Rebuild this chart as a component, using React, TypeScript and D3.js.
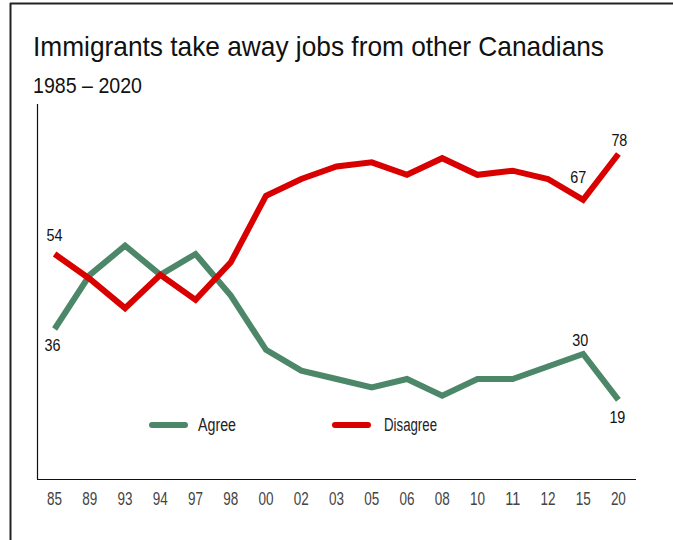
import React from 'react';
import * as d3 from 'd3';

const years: string[] = ['85', '89', '93', '94', '97', '98', '00', '02', '03', '05', '06', '08', '10', '11', '12', '15', '20'];
const agree: number[] = [36, 49, 56, 49, 54, 44, 31, 26, 24, 22, 24, 20, 24, 24, 27, 30, 19];
const disagree: number[] = [54, 48, 41, 49, 43, 52, 68, 72, 75, 76, 73, 77, 73, 74, 72, 67, 78];

// which points carry a value label, and where it sits
const agreeLabels = [
    { i: 0, dx: -2, dy: 22 },
    { i: 15, dx: -3, dy: -8 },
    { i: 16, dx: -1, dy: 23 },
];
const disagreeLabels = [
    { i: 0, dx: 0, dy: -13 },
    { i: 15, dx: -5, dy: -17 },
    { i: 16, dx: 1, dy: -8 },
];

const GREEN = '#4d8769';
const RED = '#d90000';
// no narrow face installed, so the narrow look comes from textLength squeezing
const sans = '"Liberation Sans", Arial, sans-serif';

function App() {
    const width = 673;
    const height = 540;

    const x = d3.scalePoint<string>()
        .domain(years)
        .range([37, 636])
        .padding(0.5);

    const y = d3.scaleLinear()
        .domain([0, 90])
        .range([479, 104]);

    const line = d3.line<number>()
        .x((_, i) => x(years[i]) as number)
        .y(d => y(d));

    return (
        <svg width={width} height={height} style={{ position: 'absolute', left: 0, top: 0 }}>
            {/* frame */}
            <line x1={10} x2={673} y1={3.5} y2={3.5} stroke="#222" strokeWidth={2} />
            <line x1={10.5} x2={10.5} y1={3} y2={540} stroke="#222" strokeWidth={2} />

            <text x={33} y={56} fontFamily={sans} fontSize={28} fill="#111"
                textLength={571} lengthAdjust="spacingAndGlyphs">
                Immigrants take away jobs from other Canadians
            </text>
            <text x={33} y={93} fontFamily={sans} fontSize={22} fill="#111"
                textLength={109} lengthAdjust="spacingAndGlyphs">
                1985 – 2020
            </text>

            {/* axes */}
            <line x1={37.5} x2={37.5} y1={y(90)} y2={y(0)} stroke="#111" strokeWidth={1.2} />
            <line x1={37} x2={636} y1={y(0) + 0.5} y2={y(0) + 0.5} stroke="#111" strokeWidth={1.2} />

            {years.map(yr => (
                <text key={yr} x={x(yr)} y={505} textAnchor="middle" fontFamily={sans} fontSize={18} fill="#444"
                    textLength={15} lengthAdjust="spacingAndGlyphs">
                    {yr}
                </text>
            ))}

            <path d={line(agree) ?? ''} fill="none" stroke={GREEN} strokeWidth={6} strokeLinejoin="miter" />
            <path d={line(disagree) ?? ''} fill="none" stroke={RED} strokeWidth={6} strokeLinejoin="miter" />

            {agreeLabels.map(l => (
                <text key={'a' + l.i} x={(x(years[l.i]) as number) + l.dx} y={y(agree[l.i]) + l.dy}
                    textAnchor="middle" fontFamily={sans} fontSize={17} fill="#111"
                    textLength={16} lengthAdjust="spacingAndGlyphs">
                    {agree[l.i]}
                </text>
            ))}
            {disagreeLabels.map(l => (
                <text key={'d' + l.i} x={(x(years[l.i]) as number) + l.dx} y={y(disagree[l.i]) + l.dy}
                    textAnchor="middle" fontFamily={sans} fontSize={17} fill="#111"
                    textLength={16} lengthAdjust="spacingAndGlyphs">
                    {disagree[l.i]}
                </text>
            ))}

            {/* legend */}
            <line x1={152} x2={185} y1={425} y2={425} stroke={GREEN} strokeWidth={6} strokeLinecap="round" />
            <text x={198} y={431} fontFamily={sans} fontSize={18} fill="#222"
                textLength={38} lengthAdjust="spacingAndGlyphs">Agree</text>
            <line x1={335} x2={368} y1={425} y2={425} stroke={RED} strokeWidth={6} strokeLinecap="round" />
            <text x={384} y={431} fontFamily={sans} fontSize={18} fill="#222"
                textLength={53} lengthAdjust="spacingAndGlyphs">Disagree</text>
        </svg>
    );
}

export default App;
